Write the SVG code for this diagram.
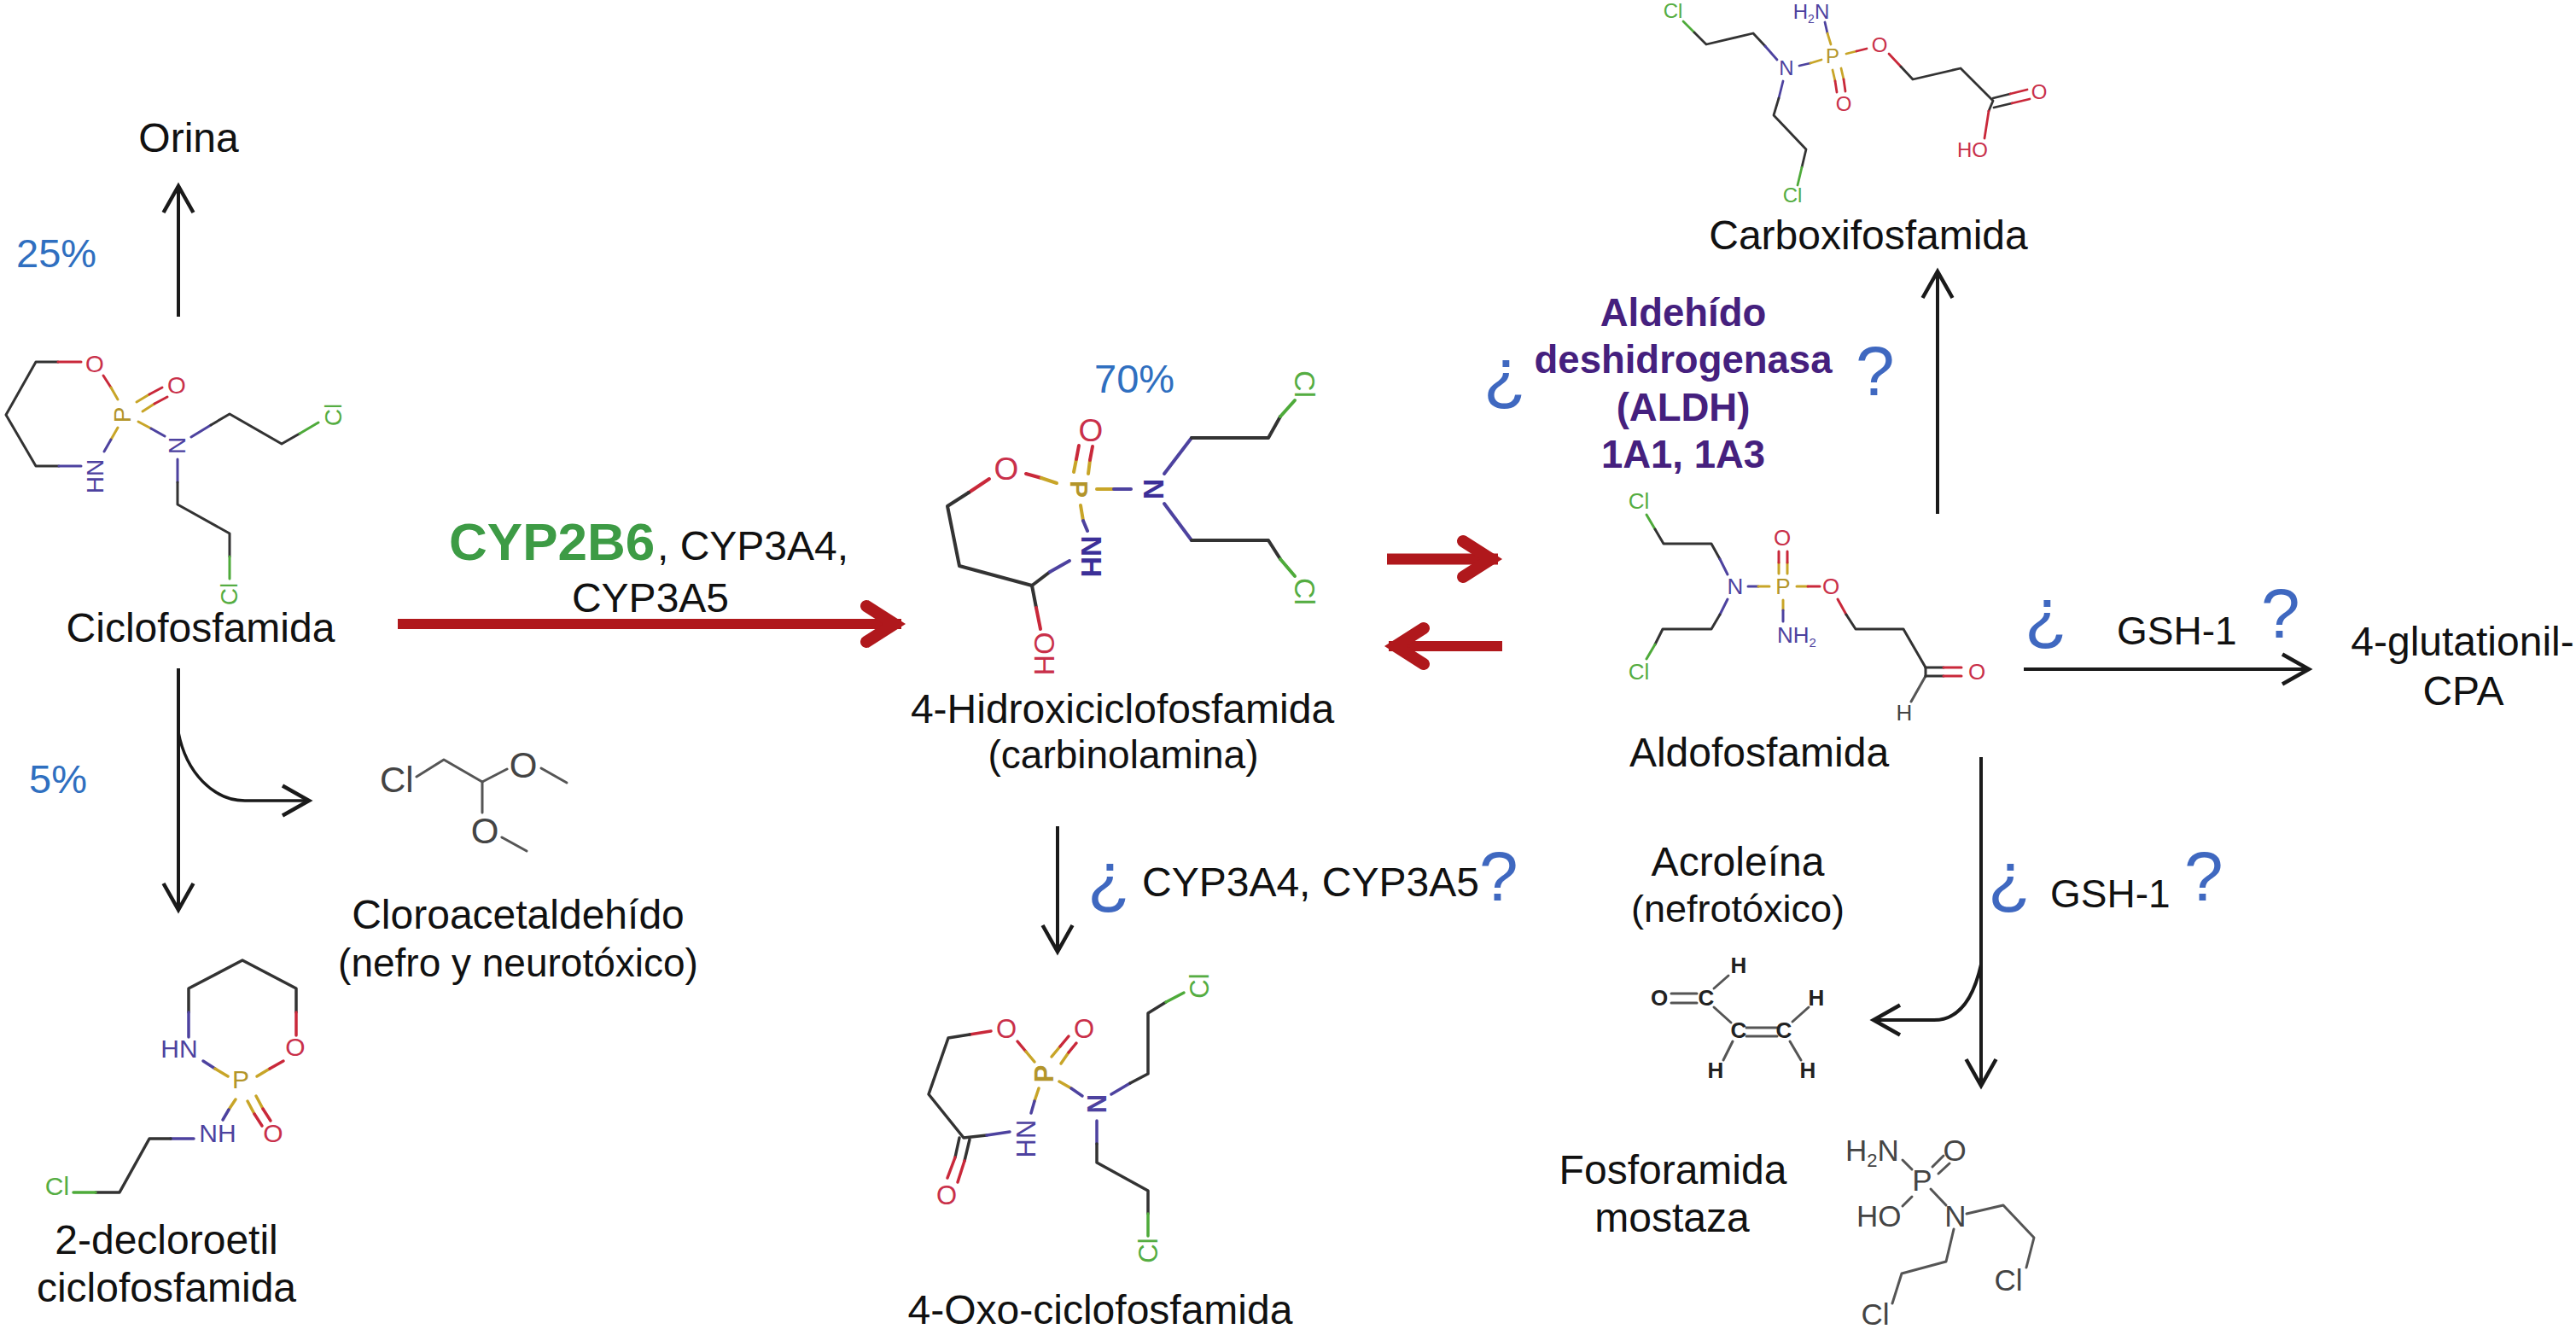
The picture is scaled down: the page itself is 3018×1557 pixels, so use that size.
<svg xmlns="http://www.w3.org/2000/svg" width="3018" height="1557" viewBox="0 0 3018 1557">
<style>
text{font-family:"Liberation Sans",Arial,sans-serif}
.t{font-size:48px;fill:#111;text-anchor:middle}
.l{font-size:48px;fill:#111}
.pc{font-size:47px;fill:#2f6fc0}
.q{font-size:82px;fill:#3f68c0}
.pu{font-size:45.5px;font-weight:bold;fill:#45207e;text-anchor:middle}
.a{text-anchor:middle}
.k,.n,.o,.p,.g,.s{fill:none;stroke-linecap:round;stroke-linejoin:round}
.k{stroke:#333}.n{stroke:#4d429f}.o{stroke:#c9283a}.p{stroke:#c8a528}.g{stroke:#4eaa3a}.s{stroke:#555}
.tn{fill:#4d429f}.to{fill:#c9304a}.tp{fill:#b3952a}.tg{fill:#55ad42}.tk{fill:#222}.ts{fill:#444}
.ar{fill:none;stroke:#1a1a1a;stroke-width:4}
.rd{fill:none;stroke:#b0181c}
</style>
<defs>
<marker id="h" markerUnits="userSpaceOnUse" orient="auto" markerWidth="60" markerHeight="60" refX="50" refY="30" viewBox="0 0 60 60" overflow="visible"><path d="M19,12.500 L50,30 L19,47.500" fill="none" stroke="#1a1a1a" stroke-width="4.500"/></marker>
<marker id="r" markerUnits="userSpaceOnUse" orient="auto" markerWidth="100" markerHeight="100" refX="80" refY="50" viewBox="0 0 100 100" overflow="visible"><path d="M39,29 L72,50 L39,71" fill="none" stroke="#b0181c" stroke-width="14" stroke-linecap="round"/></marker>
</defs>
<rect width="3018" height="1557" fill="#fff"/>

<g id="connectors">
<path class="ar" d="M209,371V218" marker-end="url(#h)"/>
<path class="ar" d="M209,783V1066" marker-end="url(#h)"/>
<path class="ar" d="M209,858C218,905 250,938 287,938H362" marker-end="url(#h)" style="stroke-width:3.500"/>
<path class="rd" d="M466,731H1056" stroke-width="12" marker-end="url(#r)"/>
<path class="rd" d="M1625,655H1755" stroke-width="13" marker-end="url(#r)"/>
<path class="rd" d="M1760,757H1627" stroke-width="12" marker-end="url(#r)"/>
<path class="ar" d="M1239,968V1115" marker-end="url(#h)"/>
<path class="ar" d="M2270,602V318" marker-end="url(#h)"/>
<path class="ar" d="M2371,784H2705" marker-end="url(#h)"/>
<path class="ar" d="M2321,887V1272" marker-end="url(#h)"/>
<path class="ar" d="M2321,1130C2312,1170 2295,1195 2266,1195H2195" marker-end="url(#h)"/>
</g>

<g id="node-orina"><text class="t" x="221" y="178">Orina</text><text class="pc" x="19" y="313">25%</text></g>

<g id="node-ciclofosfamida" stroke-width="3">
<polyline class="k" points="68,424 42,424 7,486 42,546 69,546"/>
<line class="o" x1="68" y1="424" x2="95" y2="424"/><line class="n" x1="69" y1="546" x2="95" y2="546"/>
<line class="o" x1="121" y1="440" x2="130" y2="454"/><line class="p" x1="130" y1="454" x2="138" y2="468"/>
<line class="p" x1="160" y1="471" x2="175" y2="462"/><line class="o" x1="175" y1="462" x2="190" y2="454"/>
<line class="p" x1="167" y1="482" x2="181" y2="473"/><line class="o" x1="181" y1="473" x2="196" y2="465"/>
<line class="p" x1="138" y1="501" x2="130" y2="515"/><line class="n" x1="130" y1="515" x2="122" y2="529"/>
<line class="p" x1="162" y1="494" x2="177" y2="502"/><line class="n" x1="177" y1="502" x2="193" y2="511"/>
<line class="n" x1="224" y1="512" x2="247" y2="498"/><polyline class="k" points="247,498 269,485 330,520 351,508"/><line class="g" x1="351" y1="508" x2="373" y2="495"/>
<line class="n" x1="208" y1="538" x2="208" y2="565"/><polyline class="k" points="208,565 208,591 269,625 269,652"/><line class="g" x1="269" y1="652" x2="269" y2="678"/>
<g font-size="28">
<text class="a to" x="111" y="426" dy=".35em">O</text><text class="a to" x="207" y="451" dy=".35em">O</text>
<text class="a tp" transform="translate(143 486) rotate(-90)" dy=".35em">P</text>
<text class="a tn" transform="translate(207 522) rotate(-90)" dy=".35em">N</text>
<text class="a tn" transform="translate(111 558) rotate(-90)" dy=".35em">HN</text>
<text class="a tg" transform="translate(390 486) rotate(-90)" dy=".35em">Cl</text>
<text class="a tg" transform="translate(268 696) rotate(-90)" dy=".35em">Cl</text>
</g>
<text class="t" x="235" y="752">Ciclofosfamida</text>
</g>

<g id="node-cloroacetaldehido" stroke-width="3">
<text class="pc" x="34" y="929">5%</text>
<polyline class="s" points="488,910 520,890 565,916 594,901"/><line class="s" x1="565" y1="916" x2="565" y2="952"/>
<line class="s" x1="634" y1="900" x2="664" y2="917"/><line class="s" x1="588" y1="981" x2="617" y2="997"/>
<g font-size="42"><text class="ts" x="445" y="928">Cl</text><text class="a ts" x="613" y="911">O</text><text class="a ts" x="568" y="988">O</text></g>
<text class="t" x="607" y="1088">Cloroacetaldehído</text>
<text class="t" x="607" y="1144" style="font-size:46px">(nefro y neurotóxico)</text>
</g>

<g id="node-2-decloroetil" stroke-width="3.500">
<polyline class="k" points="221,1186 221,1158 284,1125 347,1158 347,1186"/>
<line class="n" x1="221" y1="1186" x2="221" y2="1215"/><line class="o" x1="347" y1="1186" x2="347" y2="1213"/>
<line class="n" x1="238" y1="1243" x2="252" y2="1252"/><line class="p" x1="252" y1="1252" x2="267" y2="1261"/>
<line class="p" x1="301" y1="1261" x2="316" y2="1252"/><line class="o" x1="316" y1="1252" x2="332" y2="1243"/>
<line class="p" x1="290" y1="1290" x2="298" y2="1305"/><line class="o" x1="298" y1="1305" x2="307" y2="1319"/>
<line class="p" x1="300" y1="1284" x2="308" y2="1299"/><line class="o" x1="308" y1="1299" x2="317" y2="1313"/>
<line class="p" x1="276" y1="1288" x2="268" y2="1300"/><line class="n" x1="268" y1="1300" x2="261" y2="1312"/>
<line class="n" x1="227" y1="1334" x2="200" y2="1334"/><polyline class="k" points="200,1334 175,1334 140,1397 112,1397"/><line class="g" x1="112" y1="1397" x2="86" y2="1397"/>
<g font-size="30">
<text class="a tn" x="210" y="1228" dy=".35em">HN</text><text class="a to" x="346" y="1226" dy=".35em">O</text>
<text class="a tp" x="282" y="1264" dy=".35em">P</text><text class="a to" x="320" y="1327" dy=".35em">O</text>
<text class="a tn" x="255" y="1327" dy=".35em">NH</text><text class="a tg" x="67" y="1389" dy=".35em">Cl</text>
</g>
<text class="t" x="195" y="1469">2-decloroetil</text>
<text class="t" x="195" y="1525">ciclofosfamida</text>
</g>

<g id="label-cyp"><text class="l" x="526" y="656" style="font-size:62px;font-weight:bold;fill:#3d9b45">CYP2B6</text><text class="l" x="770" y="656">, CYP3A4,</text><text class="t" x="762" y="717">CYP3A5</text></g>

<g id="node-4-hidroxi" stroke-width="4">
<text class="pc" x="1282" y="460">70%</text>
<line class="o" x1="1159" y1="561" x2="1135" y2="577"/><polyline class="k" points="1135,577 1110,593 1124,663 1209,686 1230,670"/><line class="n" x1="1230" y1="670" x2="1253" y2="657"/>
<line class="k" x1="1209" y1="686" x2="1214" y2="712"/><line class="o" x1="1214" y1="712" x2="1219" y2="737"/>
<line class="o" x1="1202" y1="555" x2="1220" y2="560"/><line class="p" x1="1220" y1="560" x2="1238" y2="566"/>
<line class="p" x1="1258" y1="553" x2="1261" y2="538"/><line class="o" x1="1261" y1="538" x2="1264" y2="522"/>
<line class="p" x1="1275" y1="555" x2="1277" y2="539"/><line class="o" x1="1277" y1="539" x2="1280" y2="523"/>
<line class="p" x1="1285" y1="573" x2="1305" y2="573"/><line class="n" x1="1305" y1="573" x2="1325" y2="573"/>
<line class="p" x1="1266" y1="592" x2="1269" y2="610"/><line class="n" x1="1269" y1="610" x2="1274" y2="622"/>
<polyline class="n" points="1364,555 1396,513"/><polyline class="k" points="1396,513 1486,513 1500,488"/><line class="g" x1="1500" y1="488" x2="1517" y2="469"/>
<polyline class="n" points="1364,590 1396,633"/><polyline class="k" points="1396,633 1486,633 1500,655"/><line class="g" x1="1500" y1="655" x2="1517" y2="675"/>
<g font-size="34">
<text class="a to" x="1179" y="549" dy=".35em" font-size="37">O</text>
<text class="a to" x="1278" y="504" dy=".35em" font-size="37">O</text>
<text class="a tp" transform="translate(1264 573) rotate(90)" dy=".35em" font-weight="bold" font-size="30">P</text>
<text class="a" fill="#3c2f98" transform="translate(1352 573) rotate(90)" dy=".35em" font-weight="bold">N</text>
<text class="a" fill="#3c2f98" transform="translate(1279 652) rotate(90)" dy=".35em" font-weight="bold">NH</text>
<text class="a tg" transform="translate(1529 450) rotate(90)" dy=".35em">Cl</text>
<text class="a tg" transform="translate(1529 693) rotate(90)" dy=".35em">Cl</text>
<text class="a to" transform="translate(1224 766) rotate(90)" dy=".35em">OH</text>
</g>
<text class="t" x="1315" y="847">4-Hidroxiciclofosfamida</text>
<text class="t" x="1316" y="900" style="font-size:46px">(carbinolamina)</text>
</g>

<g id="node-4-oxo" stroke-width="3.500">
<text class="q" x="1274" y="1055">¿</text><text class="l" x="1338" y="1050">CYP3A4, CYP3A5</text><text class="q" x="1733" y="1055">?</text>
<line class="o" x1="1161" y1="1208" x2="1136" y2="1212"/><polyline class="k" points="1136,1212 1111,1216 1088,1282 1129,1333 1156,1330"/><line class="n" x1="1156" y1="1330" x2="1183" y2="1326"/>
<line class="k" x1="1124" y1="1333" x2="1119" y2="1356"/><line class="o" x1="1119" y1="1356" x2="1110" y2="1380"/>
<line class="k" x1="1136" y1="1335" x2="1130" y2="1360"/><line class="o" x1="1130" y1="1360" x2="1122" y2="1385"/>
<line class="o" x1="1192" y1="1220" x2="1202" y2="1232"/><line class="p" x1="1202" y1="1232" x2="1212" y2="1244"/>
<line class="p" x1="1232" y1="1238" x2="1242" y2="1226"/><line class="o" x1="1242" y1="1226" x2="1252" y2="1214"/>
<line class="p" x1="1243" y1="1246" x2="1252" y2="1233"/><line class="o" x1="1252" y1="1233" x2="1261" y2="1222"/>
<line class="p" x1="1241" y1="1267" x2="1255" y2="1275"/><line class="n" x1="1255" y1="1275" x2="1268" y2="1284"/>
<line class="p" x1="1217" y1="1275" x2="1212" y2="1290"/><line class="n" x1="1212" y1="1290" x2="1208" y2="1304"/>
<line class="n" x1="1302" y1="1282" x2="1324" y2="1269"/><polyline class="k" points="1324,1269 1345,1258 1345,1187 1366,1174"/><line class="g" x1="1366" y1="1174" x2="1387" y2="1163"/>
<line class="n" x1="1285" y1="1313" x2="1285" y2="1340"/><polyline class="k" points="1285,1340 1285,1362 1345,1395 1345,1422"/><line class="g" x1="1345" y1="1422" x2="1345" y2="1448"/>
<g font-size="31">
<text class="a to" x="1179" y="1205" dy=".35em">O</text><text class="a to" x="1270" y="1205" dy=".35em">O</text><text class="a to" x="1109" y="1400" dy=".35em">O</text>
<text class="a tp" transform="translate(1223 1258) rotate(-90)" dy=".35em" font-weight="bold">P</text>
<text class="a tn" transform="translate(1285 1293) rotate(-90)" dy=".35em" font-weight="bold">N</text>
<text class="a tn" transform="translate(1202 1334) rotate(-90)" dy=".35em">HN</text>
<text class="a tg" transform="translate(1405 1155) rotate(-90)" dy=".35em">Cl</text>
<text class="a tg" transform="translate(1345 1465) rotate(-90)" dy=".35em">Cl</text>
</g>
<text class="t" x="1289" y="1551">4-Oxo-ciclofosfamida</text>
</g>

<g id="label-aldh">
<text class="q" x="1738" y="465">¿</text>
<text class="pu" x="1972" y="382">Aldehído</text><text class="pu" x="1972" y="437">deshidrogenasa</text><text class="pu" x="1972" y="493">(ALDH)</text><text class="pu" x="1972" y="548">1A1, 1A3</text>
<text class="q" x="2174" y="463">?</text>
</g>

<g id="node-carboxifosfamida" stroke-width="2.800">
<line class="g" x1="1972" y1="25" x2="1985" y2="38"/><polyline class="k" points="1985,38 1999,52 2054,39 2068,54"/><line class="n" x1="2068" y1="54" x2="2082" y2="70"/>
<line class="n" x1="2089" y1="95" x2="2084" y2="115"/><polyline class="k" points="2084,115 2078,135 2116,175 2111,196"/><line class="g" x1="2111" y1="196" x2="2106" y2="217"/>
<line class="n" x1="2108" y1="77" x2="2121" y2="74"/><line class="p" x1="2121" y1="74" x2="2134" y2="70"/>
<line class="n" x1="2138" y1="26" x2="2141" y2="39"/><line class="p" x1="2141" y1="39" x2="2145" y2="52"/>
<line class="p" x1="2147" y1="82" x2="2150" y2="95"/><line class="o" x1="2150" y1="95" x2="2152" y2="108"/>
<line class="p" x1="2157" y1="80" x2="2160" y2="93"/><line class="o" x1="2160" y1="93" x2="2162" y2="107"/>
<line class="p" x1="2163" y1="63" x2="2175" y2="60"/><line class="o" x1="2175" y1="60" x2="2187" y2="57"/>
<line class="o" x1="2213" y1="63" x2="2227" y2="78"/><polyline class="k" points="2227,78 2241,93 2297,80 2335,118 2330,130"/><line class="o" x1="2330" y1="130" x2="2325" y2="162"/>
<line class="k" x1="2335" y1="115" x2="2355" y2="110"/><line class="o" x1="2355" y1="110" x2="2375" y2="105"/>
<line class="k" x1="2336" y1="126" x2="2357" y2="121"/><line class="o" x1="2357" y1="121" x2="2378" y2="116"/>
<g font-size="24">
<text class="a tg" x="1960" y="13" dy=".35em">Cl</text><text class="a tg" x="2100" y="229" dy=".35em">Cl</text>
<text class="a tn" x="2093" y="80" dy=".35em">N</text><text class="a tp" x="2147" y="66" dy=".35em">P</text>
<text class="a tn" x="2122" y="22">H<tspan font-size="14" dy="5">2</tspan><tspan dy="-5">N</tspan></text>
<text class="a to" x="2160" y="122" dy=".35em">O</text><text class="a to" x="2202" y="53" dy=".35em">O</text><text class="a to" x="2389" y="108" dy=".35em">O</text><text class="a to" x="2311" y="176" dy=".35em">HO</text>
</g>
<text class="t" x="2189" y="292">Carboxifosfamida</text>
</g>

<g id="node-aldofosfamida" stroke-width="3">
<line class="g" x1="1929" y1="603" x2="1939" y2="620"/><polyline class="k" points="1939,620 1949,637 2005,637 2015,655"/><line class="n" x1="2015" y1="655" x2="2024" y2="673"/>
<line class="n" x1="2024" y1="702" x2="2015" y2="720"/><polyline class="k" points="2015,720 2005,737 1948,737 1939,755"/><line class="g" x1="1939" y1="755" x2="1929" y2="772"/>
<line class="n" x1="2048" y1="687" x2="2060" y2="687"/><line class="p" x1="2060" y1="687" x2="2073" y2="687"/>
<line class="p" x1="2084" y1="672" x2="2084" y2="659"/><line class="o" x1="2084" y1="659" x2="2084" y2="646"/>
<line class="p" x1="2094" y1="672" x2="2094" y2="659"/><line class="o" x1="2094" y1="659" x2="2094" y2="646"/>
<line class="p" x1="2089" y1="703" x2="2089" y2="715"/><line class="n" x1="2089" y1="715" x2="2089" y2="728"/>
<line class="p" x1="2105" y1="687" x2="2118" y2="687"/><line class="o" x1="2118" y1="687" x2="2132" y2="687"/>
<line class="o" x1="2153" y1="702" x2="2163" y2="720"/><polyline class="k" points="2163,720 2174,737 2230,737 2256,782"/><line class="s" x1="2256" y1="792" x2="2239" y2="822"/><line class="k" x1="2256" y1="782" x2="2256" y2="792"/>
<line class="k" x1="2256" y1="782" x2="2277" y2="782"/><line class="o" x1="2277" y1="782" x2="2298" y2="782"/>
<line class="k" x1="2256" y1="792" x2="2277" y2="792"/><line class="o" x1="2277" y1="792" x2="2298" y2="792"/>
<g font-size="26">
<text class="a tg" x="1920" y="587" dy=".35em">Cl</text><text class="a tg" x="1920" y="787" dy=".35em">Cl</text>
<text class="a tn" x="2033" y="687" dy=".35em">N</text><text class="a tp" x="2089" y="687" dy=".35em">P</text>
<text class="a to" x="2088" y="630" dy=".35em">O</text><text class="a to" x="2145" y="687" dy=".35em">O</text><text class="a to" x="2316" y="787" dy=".35em">O</text>
<text class="tn" x="2082" y="753">NH<tspan font-size="15" dy="5">2</tspan></text><text class="a ts" x="2231" y="835" dy=".35em">H</text>
</g>
<text class="t" x="2061" y="898">Aldofosfamida</text>
</g>

<g id="node-4-glutationil">
<text class="q" x="2372" y="746">¿</text><text class="l" x="2480" y="755" style="font-size:46px">GSH-1</text><text class="q" x="2649" y="747">?</text>
<text class="t" x="2885" y="768">4-glutationil-</text><text class="t" x="2886" y="826">CPA</text>
</g>

<g id="node-acroleina" stroke-width="3">
<text class="t" x="2036" y="1026">Acroleína</text><text class="t" x="2036" y="1080" style="font-size:45px">(nefrotóxico)</text>
<text class="q" x="2329" y="1055">¿</text><text class="l" x="2402" y="1063" style="font-size:46px">GSH-1</text><text class="q" x="2559" y="1055">?</text>
<g class="s">
<line x1="1958" y1="1164" x2="1988" y2="1164"/><line x1="1958" y1="1175" x2="1988" y2="1175"/>
<line x1="2008" y1="1158" x2="2025" y2="1143"/><line x1="2008" y1="1180" x2="2028" y2="1198"/>
<line x1="2046" y1="1204" x2="2082" y2="1204"/><line x1="2046" y1="1214" x2="2082" y2="1214"/>
<line x1="2100" y1="1197" x2="2119" y2="1180"/><line x1="2030" y1="1220" x2="2019" y2="1242"/><line x1="2097" y1="1220" x2="2110" y2="1242"/>
</g>
<g font-size="26" font-weight="bold">
<text class="a tk" x="1944" y="1169" dy=".35em">O</text><text class="a tk" x="1999" y="1169" dy=".35em">C</text><text class="a tk" x="2037" y="1207" dy=".35em">C</text><text class="a tk" x="2090" y="1207" dy=".35em">C</text>
<text class="a tk" x="2037" y="1131" dy=".35em">H</text><text class="a tk" x="2128" y="1169" dy=".35em">H</text><text class="a tk" x="2010" y="1254" dy=".35em">H</text><text class="a tk" x="2118" y="1254" dy=".35em">H</text>
</g>
</g>

<g id="node-fosforamida" stroke-width="3">
<text class="t" x="1960" y="1387">Fosforamida</text><text class="t" x="1959" y="1443">mostaza</text>
<g class="s">
<line x1="2229" y1="1359" x2="2240" y2="1370"/><line x1="2264" y1="1367" x2="2277" y2="1354"/><line x1="2271" y1="1375" x2="2284" y2="1363"/>
<line x1="2240" y1="1402" x2="2229" y2="1413"/><line x1="2262" y1="1393" x2="2280" y2="1412"/>
<polyline points="2304,1422 2347,1412 2383,1450 2374,1485"/><polyline points="2289,1440 2280,1478 2228,1492 2217,1527"/>
</g>
<g font-size="35">
<text class="ts" x="2162" y="1360">H<tspan font-size="22" dy="7">2</tspan><tspan dy="-7">N</tspan></text>
<text class="a ts" x="2290" y="1348" dy=".35em">O</text><text class="a ts" x="2252" y="1383" dy=".35em">P</text>
<text class="ts" x="2175" y="1437">HO</text><text class="a ts" x="2291" y="1425" dy=".35em">N</text>
<text class="a ts" x="2353" y="1500" dy=".35em">Cl</text><text class="a ts" x="2197" y="1540" dy=".35em">Cl</text>
</g>
</g>
</svg>
